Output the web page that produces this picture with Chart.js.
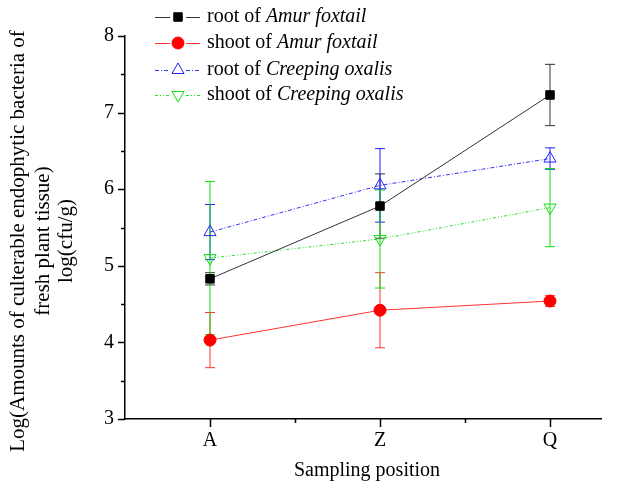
<!DOCTYPE html>
<html>
<head>
<meta charset="utf-8">
<script src="https://cdn.jsdelivr.net/npm/chart.js@4"></script>
<style>
html,body{margin:0;padding:0;background:#fff;}
canvas{display:block;}
</style>
</head>
<body>
<canvas id="c" width="635" height="488"></canvas>
<script>
// ---- data ----
const categories = ['A', 'Z', 'Q'];
const rootAmur = [4.83, 5.78, 7.23];
const rootAmurErr = [0.08, 0.42, 0.40];
const shootAmur = [4.03, 4.42, 4.54];
const shootAmurErr = [0.36, 0.49, 0.07];
const rootOxalis = [5.44, 6.05, 6.40];
const rootOxalisErr = [0.36, 0.48, 0.14];
const shootOxalis = [5.10, 5.35, 5.76];
const shootOxalisErr = [1.00, 0.64, 0.51];
const legendPrefix = ['root of ', 'shoot of ', 'root of ', 'shoot of '];
const legendSpecies = ['Amur foxtail', 'Amur foxtail', 'Creeping oxalis', 'Creeping oxalis'];
const yTitleLines = ['Log(Amounts of culterable endophytic bacteria of', 'fresh plant tissue)', 'log(cfu/g)'];
const xTitle = 'Sampling position';

const FONT = "'Liberation Serif', 'Times New Roman', serif";
const errSets = [rootAmurErr, shootAmurErr, rootOxalisErr, shootOxalisErr];

function pts(arr){ return arr.map((v,i)=>({x:i, y:v})); }

const datasets = [
  {label:'root of Amur foxtail', data:pts(rootAmur), borderColor:'#333333', backgroundColor:'#000000',
   pointStyle:'rect', pointRadius:6, pointBorderColor:'#000', pointBorderWidth:1, borderWidth:1, errColor:'#333333', borderDash:[]},
  {label:'shoot of Amur foxtail', data:pts(shootAmur), borderColor:'#ff3333', backgroundColor:'#ff0000',
   pointStyle:'circle', pointRadius:6, pointBorderColor:'#ff0000', pointBorderWidth:1, borderWidth:1, errColor:'#ff3333', borderDash:[]},
  {label:'root of Creeping oxalis', data:pts(rootOxalis), borderColor:'#3333ff', backgroundColor:'rgba(0,0,0,0)',
   pointStyle:'triangle', pointRadius:7, pointBorderColor:'#2222ff', pointBorderWidth:1, borderWidth:1, errColor:'#2222ff', borderDash:[4,2,1,2]},
  {label:'shoot of Creeping oxalis', data:pts(shootOxalis), borderColor:'#22dd22', backgroundColor:'rgba(0,0,0,0)',
   pointStyle:'triangle', pointRotation:180, rotation:180, pointRadius:7, pointBorderColor:'#11dd11', pointBorderWidth:1, borderWidth:1, errColor:'#11dd11', borderDash:[3,2,1,2,1,2]}
];

const errorBars = {
  id:'errorBars',
  beforeDatasetsDraw(chart){
    const {ctx, scales:{x, y}} = chart;
    chart.data.datasets.forEach((ds, i) => {
      const errs = errSets[i];
      ds.data.forEach((p, j) => {
        const px = x.getPixelForValue(p.x);
        const t = y.getPixelForValue(p.y + errs[j]);
        const b = y.getPixelForValue(p.y - errs[j]);
        ctx.save();
        ctx.strokeStyle = ds.errColor; ctx.lineWidth = 1;
        ctx.beginPath();
        ctx.moveTo(px, t); ctx.lineTo(px, b);
        ctx.moveTo(px-5, t); ctx.lineTo(px+5, t);
        ctx.moveTo(px-5, b); ctx.lineTo(px+5, b);
        ctx.stroke();
        ctx.restore();
      });
    });
  }
};

const tickMarks = {
  id:'tickMarks',
  afterDraw(chart){
    const {ctx, scales:{x, y}, chartArea:ca} = chart;
    ctx.save();
    ctx.strokeStyle = '#000'; ctx.lineWidth = 1.5;
    ctx.beginPath();
    x.ticks.forEach(t => {
      if (t.value <= x.min + 1e-6) return;
      const px = Math.round(x.getPixelForValue(t.value)) + 0.5;
      const len = Number.isInteger(t.value) ? 8 : 4;
      ctx.moveTo(px, ca.bottom); ctx.lineTo(px, ca.bottom + len);
    });
    y.ticks.forEach(t => {
      const py = Math.round(y.getPixelForValue(t.value)) + 0.5;
      const len = Number.isInteger(t.value) ? 7 : 4;
      ctx.moveTo(ca.left - len, py); ctx.lineTo(ca.left, py);
    });
    ctx.stroke();
    ctx.restore();
  }
};

const titles = {
  id:'titles',
  afterDraw(chart){
    const {ctx, chartArea:ca} = chart;
    ctx.save();
    ctx.fillStyle = '#000';
    ctx.textAlign = 'center'; ctx.textBaseline = 'middle';
    ctx.font = '20px ' + FONT;
    ctx.fillText(xTitle, (ca.left + ca.right)/2 + 4, 471);
    ctx.font = '21px ' + FONT;
    const xs = [18, 43, 66];
    yTitleLines.forEach((s, i) => {
      ctx.save();
      ctx.translate(xs[i], 241);
      ctx.rotate(-Math.PI/2);
      ctx.fillText(s, 0, 0);
      ctx.restore();
    });
    ctx.restore();
  }
};

const legendPlugin = {
  id:'customLegend',
  afterDraw(chart){
    const {ctx} = chart;
    const rows = [17, 43, 70, 95];
    chart.data.datasets.forEach((ds, i) => {
      const yy = rows[i];
      ctx.save();
      ctx.strokeStyle = ds.borderColor; ctx.lineWidth = 1;
      ctx.setLineDash(ds.borderDash || []);
      ctx.beginPath();
      ctx.moveTo(155, yy + 0.5); ctx.lineTo(170, yy + 0.5);
      ctx.moveTo(186, yy + 0.5); ctx.lineTo(200, yy + 0.5);
      ctx.stroke();
      ctx.setLineDash([]);
      ctx.fillStyle = ds.backgroundColor;
      ctx.strokeStyle = ds.pointBorderColor;
      Chart.helpers.drawPoint(ctx, {pointStyle: ds.pointStyle, rotation: ds.pointRotation || 0, radius: ds.pointRadius, borderWidth: 1}, 178, yy);
      ctx.fillStyle = '#000';
      ctx.textBaseline = 'middle'; ctx.textAlign = 'left';
      ctx.font = '20px ' + FONT;
      ctx.fillText(legendPrefix[i], 207, yy);
      const w = ctx.measureText(legendPrefix[i]).width;
      ctx.font = 'italic 20px ' + FONT;
      ctx.fillText(legendSpecies[i], 207 + w, yy);
      ctx.restore();
    });
  }
};

new Chart(document.getElementById('c'), {
  type:'line',
  data:{datasets},
  options:{
    responsive:false,
    animation:false,
    devicePixelRatio:1,
    layout:{padding:{top:36, right:34, left:0, bottom:0}},
    plugins:{legend:{display:false}, tooltip:{enabled:false}},
    elements:{line:{tension:0}},
    scales:{
      x:{
        type:'linear', min:-0.5, max:2.3,
        grid:{display:false, drawTicks:false},
        border:{display:true, color:'#000', width:1.5},
        ticks:{stepSize:0.5, includeBounds:false, autoSkip:false, maxRotation:0, padding:10,
          color:'#000', font:{family:FONT, size:20},
          callback:(v)=> Number.isInteger(v) && v >= 0 && v < categories.length ? categories[v] : ''},
        afterFit:(s)=>{ s.height = 69; }
      },
      y:{
        type:'linear', min:3, max:8,
        grid:{display:false, drawTicks:false},
        border:{display:true, color:'#000', width:1.5},
        ticks:{stepSize:0.5, autoSkip:false, padding:11, color:'#000', font:{family:FONT, size:20},
          callback:(v)=> Number.isInteger(v) ? String(v) : ''},
        afterFit:(s)=>{ s.width = 125; }
      }
    }
  },
  plugins:[errorBars, tickMarks, titles, legendPlugin]
});
</script>
</body>
</html>
